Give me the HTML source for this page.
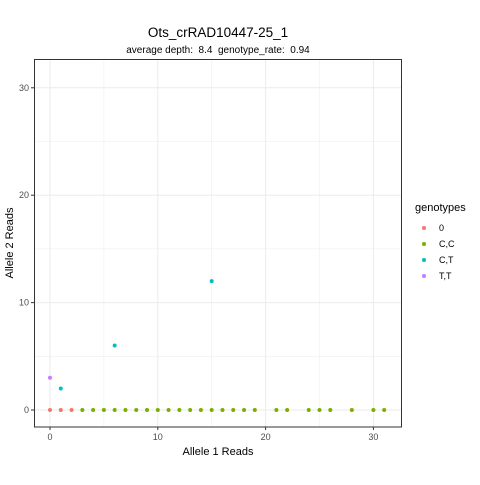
<!DOCTYPE html>
<html><head><meta charset="utf-8"><style>body{margin:0;background:#fff}svg{font-family:"Liberation Sans",sans-serif}text{white-space:pre}</style></head>
<body>
<svg id="c" width="480" height="480">
<rect width="480" height="480" fill="#fff"/>
<text x="218" y="37" font-size="13.5" text-anchor="middle">Ots_crRAD10447-25_1</text>
<text x="218" y="53" font-size="10" text-anchor="middle" xml:space="preserve">average depth:  8.4  genotype_rate:  0.94</text>
<g id="grid"></g><g id="pts"></g><g id="axes"></g>
<rect x="34.5" y="59.5" width="367" height="367.5" fill="none" stroke="#333" stroke-width="1"/>
<text x="218" y="455" font-size="11" text-anchor="middle">Allele 1 Reads</text>
<text x="13" y="243" font-size="11" text-anchor="middle" transform="rotate(-90 13 243)">Allele 2 Reads</text>
<g id="legend"></g>
</svg>
<script>
const cats=["0","C,C","C,T","T,T"];
const colors=["#F8766D","#7CAE00","#00BFC4","#C77CFF"];
const xs=[0,1,2,3,4,5,6,7,8,9,10,11,12,13,14,15,16,17,18,19,21,22,24,25,26,28,30,31,1,6,15,0];
const ys=[0,0,0,0,0,0,0,0,0,0,0,0,0,0,0,0,0,0,0,0,0,0,0,0,0,0,0,0,2,6,12,3];
const gs=[0,0,0,1,1,1,1,1,1,1,1,1,1,1,1,1,1,1,1,1,1,1,1,1,1,1,1,1,2,2,2,3];
const xticks=[0,10,20,30];
const yticks=[0,10,20,30];
const sx=v=>50+v*10.78, sy=v=>410-v*10.74;
const NS="http://www.w3.org/2000/svg";
function mk(t,a,p){const e=document.createElementNS(NS,t);for(const k in a)e.setAttribute(k,a[k]);p.appendChild(e);return e;}
const grid=document.getElementById('grid'),axes=document.getElementById('axes'),pts=document.getElementById('pts'),leg=document.getElementById('legend');
for(let v=-5;v<=35;v+=5){const x=sx(v);if(x>35&&x<401){const l=mk('line',{x1:x,x2:x,y1:60,y2:427,stroke:'#ebebeb','stroke-width':v%10?0.5:1},grid);

}
const y=sy(v);if(y>60&&y<427){const l=mk('line',{x1:35,x2:401,y1:y,y2:y,stroke:'#ebebeb','stroke-width':v%10?0.5:1},grid);

}}
xticks.forEach(v=>{mk('line',{x1:sx(v),x2:sx(v),y1:427,y2:430,stroke:'#333'},axes);const t=mk('text',{x:sx(v),y:440,'font-size':9,fill:'#4d4d4d','text-anchor':'middle'},axes);t.textContent=v;

});
yticks.forEach(v=>{mk('line',{x1:31,x2:34.5,y1:sy(v),y2:sy(v),stroke:'#333'},axes);const t=mk('text',{x:29,y:sy(v)+3,'font-size':9,fill:'#4d4d4d','text-anchor':'end'},axes);t.textContent=v;

});
xs.forEach((x,i)=>{const c=mk('circle',{cx:sx(x),cy:sy(ys[i]),r:2,fill:colors[gs[i]]},pts);

});
const lt=mk('text',{x:415,y:211,'font-size':11},leg);lt.textContent='genotypes';


cats.forEach((c,i)=>{const g=mk('g',{},leg);


const y=228+i*16;mk('circle',{cx:424,cy:y,r:2,fill:colors[i]},g);const t=mk('text',{x:439,y:y+3,'font-size':9},g);t.textContent=c;});
</script>
</body></html>
